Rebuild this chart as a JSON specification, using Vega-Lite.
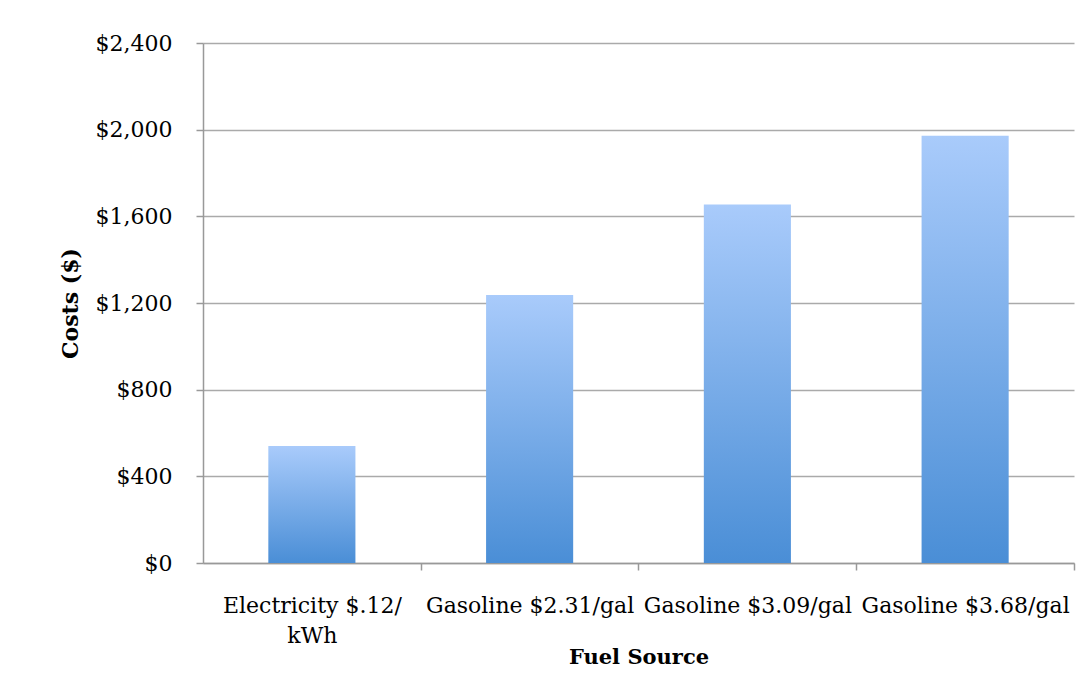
{
  "$schema": "https://vega.github.io/schema/vega-lite/v6.json",
  "width": 871,
  "height": 520,
  "autosize": "none",
  "padding": {"left": 203, "top": 43, "right": 3, "bottom": 131},
  "background": "white",
  "config": {"view": {"stroke": null}, "font": "DejaVu Serif"},
  "data": {
    "values": [
      {"source": "Electricity $.12/ kWh", "cost": 540},
      {"source": "Gasoline $2.31/gal", "cost": 1237},
      {"source": "Gasoline $3.09/gal", "cost": 1655},
      {"source": "Gasoline $3.68/gal", "cost": 1972}
    ]
  },
  "mark": {
    "type": "bar",
    "color": {
      "gradient": "linear",
      "x1": 0, "y1": 0, "x2": 0, "y2": 1,
      "stops": [
        {"offset": 0, "color": "#A9CBFB"},
        {"offset": 1, "color": "#4A8ED6"}
      ]
    }
  },
  "encoding": {
    "x": {
      "field": "source",
      "type": "nominal",
      "sort": null,
      "scale": {"paddingInner": 0.6, "paddingOuter": 0.3},
      "axis": {
        "title": "Fuel Source",
        "titleFont": "DejaVu Serif",
        "titleFontSize": 21,
        "titleFontWeight": "bold",
        "titleColor": "black",
        "titlePadding": 0,
        "labelAngle": 0,
        "labelFont": "DejaVu Serif",
        "labelFontSize": 22,
        "labelColor": "black",
        "labelPadding": 25,
        "labelLineHeight": 30,
        "labelLimit": 400,
        "labelOverlap": false,
        "labelExpr": "datum.value == 'Electricity $.12/ kWh' ? ['Electricity $.12/', 'kWh'] : datum.value",
        "bandPosition": 1,
        "tickOffset": 65.3,
        "labelOffset": -65.3,
        "ticks": true,
        "tickSize": 7,
        "tickWidth": 1.5,
        "tickColor": "#999999",
        "domainColor": "#999999",
        "domainWidth": 1.5,
        "grid": false
      }
    },
    "y": {
      "field": "cost",
      "type": "quantitative",
      "scale": {"domain": [0, 2400], "nice": false},
      "axis": {
        "title": "Costs ($)",
        "titleFont": "DejaVu Serif",
        "titleFontSize": 22,
        "titleFontWeight": "bold",
        "titleColor": "black",
        "titlePadding": 13,
        "values": [0, 400, 800, 1200, 1600, 2000, 2400],
        "format": "$,.0f",
        "labelFont": "DejaVu Serif",
        "labelFontSize": 22,
        "labelColor": "black",
        "labelPadding": 24,
        "tickSize": 7,
        "tickWidth": 1.5,
        "tickColor": "#999999",
        "domainColor": "#999999",
        "domainWidth": 1.5,
        "gridColor": "#aaaaaa",
        "gridWidth": 1.5
      }
    }
  }
}
